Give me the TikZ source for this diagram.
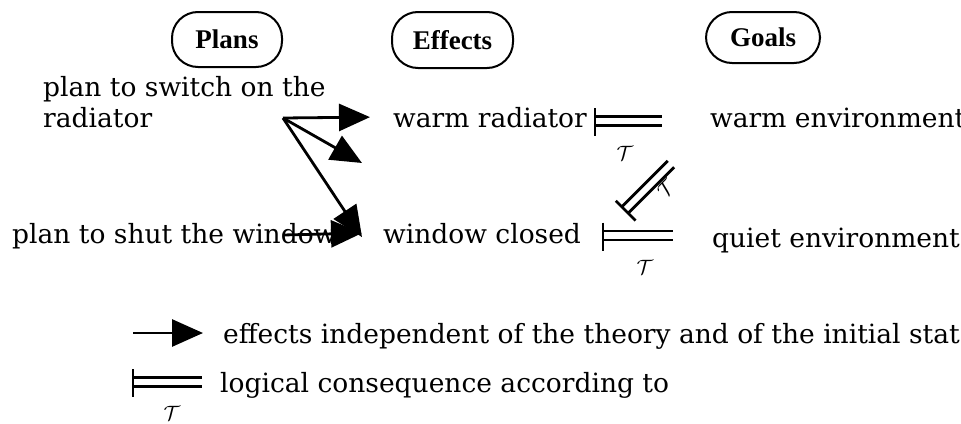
\documentclass[tikz,border=0pt]{standalone}
\usepackage{fontspec}
\setmainfont{DejaVu Serif}
\newfontfamily\headfont{Liberation Serif}
\usetikzlibrary{arrows.meta,positioning}

\begin{document}
\begin{tikzpicture}[
    x=1pt, y=-1pt,
    head/.style={draw, line width=2pt, rounded corners=26pt, inner sep=0pt,
      font=\headfont\bfseries\fontsize{27}{27}\selectfont},
    txt/.style={inner sep=0pt, anchor=base west, font=\fontsize{26.5}{31}\selectfont},
    eff/.style={line width=2.8pt, -{Triangle[length=31pt, width=27pt]}},
    ent/.style={line width=2.8pt},
    tee/.style={inner sep=0pt, font=\fontsize{22}{22}\selectfont},
    pics/entails/.style 2 args={code={
      \draw[ent] (0,-13) -- (0,15);
      \draw[ent] (0,-4.5) -- (#1,-4.5) (0,4.5) -- (#1,4.5);
      \node[tee] at #2 {$\mathcal{T}$};
    }}
]
\useasboundingbox (0,0) rectangle (961,423);
\clip (0,0) rectangle (961,423);

% Headings
\node[head, minimum width=110pt, minimum height=55pt] (plans) at (227,39.5) {Plans\hspace{14pt}};
\node[head, minimum width=121pt, minimum height=56pt] (effects) at (452.5,40) {Effects\hspace{14pt}};
\node[head, minimum width=114pt, minimum height=51pt] (goals) at (763,37.5) {Goals\hspace{14pt}};

% Plans, effects and goals
\node[txt, align=left] (switchplan) at (43,127) {plan to switch on the\\radiator};
\node[txt] (shutplan) at (12,243) {plan to shut the window};
\node[txt] (warmrad) at (393,127) {warm radiator};
\node[txt] (winclosed) at (383,243) {window closed};
\node[txt] (warmenv) at (710,127) {warm environment};
\node[txt] (quietenv) at (712,247) {quiet environment};

% Effects of the plans
\coordinate (switchout) at (283,118);
\coordinate (shutout) at (283,235);
\coordinate (gap) at (362,163);
\draw[eff] (switchout) -- ([xshift=-23pt]warmrad.west);
\draw[eff] (switchout) -- (gap);
\draw[eff] (switchout) -- ([xshift=-21pt,yshift=-4pt]winclosed.west);
\draw[eff] (shutout) -- ([xshift=-21pt]winclosed.west);

% Logical consequences
\pic at (595,121) {entails={67}{(30,32)}};
\pic at (603,235.5) {entails={70}{(42,32)}};
\pic[rotate=45, transform shape] at (625,210) {entails={65}{(44,14)}};

% Legend
\node[txt] (legeff) at (223,343) {effects independent of the theory and of the initial state};
\node[txt] (legcons) at (220,392) {logical consequence according to};
\coordinate (legtail) at (133,333);
\draw[eff, shorten >=20pt] (legtail) -- (legtail -| legeff.west);
\pic at (133,382) {entails={69}{(39,31)}};

\end{tikzpicture}
\end{document}
